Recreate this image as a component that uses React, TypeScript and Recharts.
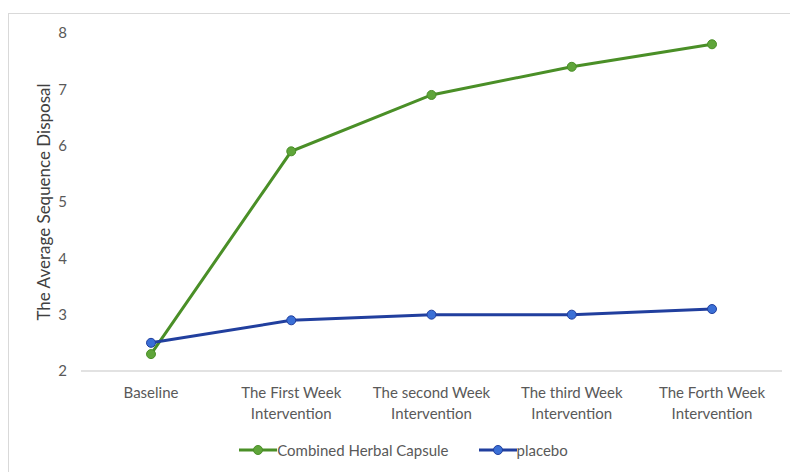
import React from "react";
import { LineChart, Line, XAxis, YAxis, Legend } from "recharts";

// categories on the x axis, each split over two lines
const categories = [
  ["Baseline"],
  ["The First Week", "Intervention"],
  ["The second Week", "Intervention"],
  ["The third Week", "Intervention"],
  ["The Forth Week", "Intervention"],
];

const herbal = [2.3, 5.9, 6.9, 7.4, 7.8];
const placebo = [2.5, 2.9, 3.0, 3.0, 3.1];
const yTicks = [2, 3, 4, 5, 6, 7, 8];

const series = [
  { key: "herbal", name: "Combined Herbal Capsule", line: "#4a8f27", dot: "#5fa53a" },
  { key: "placebo", name: "placebo", line: "#213f9e", dot: "#3a6fd6" },
];

const data = categories.map((c, i) => ({
  cat: c.join("|"),
  herbal: herbal[i],
  placebo: placebo[i],
}));

const FONT = "Lato, 'Open Sans', sans-serif";
const TEXT = "#595959";

const CategoryTick = (props: any) => {
  const { x, y, payload } = props;
  const lines = String(payload.value).split("|");
  return (
    <g transform={`translate(${x},${y})`}>
      {lines.map((l: string, i: number) => (
        <text
          key={i}
          x={0}
          y={13 + i * 21}
          textAnchor="middle"
          dominantBaseline="central"
          fill={TEXT}
          fontSize={15}
          fontFamily={FONT}
        >
          {l}
        </text>
      ))}
    </g>
  );
};

const YLabel = (props: any) => {
  const { viewBox } = props;
  const cx = viewBox.x + 34;
  const cy = viewBox.y + viewBox.height / 2;
  return (
    <text
      x={cx}
      y={cy}
      transform={`rotate(-90 ${cx} ${cy})`}
      textAnchor="middle"
      dominantBaseline="central"
      fill="#404040"
      fontSize={17}
      fontFamily={FONT}
    >
      The Average Sequence Disposal
    </text>
  );
};

const LegendContent = () => (
  <div
    style={{
      height: 30,
      display: "flex",
      alignItems: "center",
      justifyContent: "center",
      paddingLeft: 16,
      fontFamily: FONT,
      fontSize: 15,
      color: TEXT,
    }}
  >
    {series.map((s, i) => (
      <div key={s.key} style={{ display: "flex", alignItems: "center", marginLeft: i ? 30 : 0 }}>
        <svg width={38} height={12}>
          <line x1={0} y1={6} x2={38} y2={6} stroke={s.line} strokeWidth={3} />
          <circle cx={19} cy={6} r={4.5} fill={s.dot} stroke={s.line} strokeWidth={1} />
        </svg>
        <span>{s.name}</span>
      </div>
    ))}
  </div>
);

export default function App() {
  return (
    <div
      style={{
        position: "fixed",
        left: 8,
        top: 13,
        width: 800,
        height: 480,
        border: "1px solid #d9d9d9",
        background: "#fff",
      }}
    >
      <LineChart
        width={781}
        height={458}
        data={data}
        margin={{ top: 19, right: 8, bottom: 7, left: 0 }}
      >
        <XAxis
          dataKey="cat"
          padding={{ left: 70, right: 70 }}
          tickLine={false}
          axisLine={{ stroke: "#d9d9d9", strokeWidth: 1.5 }}
          tick={<CategoryTick />}
          interval={0}
          height={64}
        />
        <YAxis
          domain={[2, 8]}
          ticks={yTicks}
          width={72}
          axisLine={false}
          tickLine={false}
          tickMargin={8}
          tick={{ fill: TEXT, fontSize: 15, fontFamily: FONT }}
          label={{ content: <YLabel /> }}
        />
        <Legend verticalAlign="bottom" content={<LegendContent />} />
        {series.map((s) => (
          <Line
            key={s.key}
            type="linear"
            dataKey={s.key}
            name={s.name}
            stroke={s.line}
            strokeWidth={3}
            dot={{ r: 4.5, fill: s.dot, stroke: s.line, strokeWidth: 1 }}
            activeDot={false}
            isAnimationActive={false}
          />
        ))}
      </LineChart>
    </div>
  );
}
